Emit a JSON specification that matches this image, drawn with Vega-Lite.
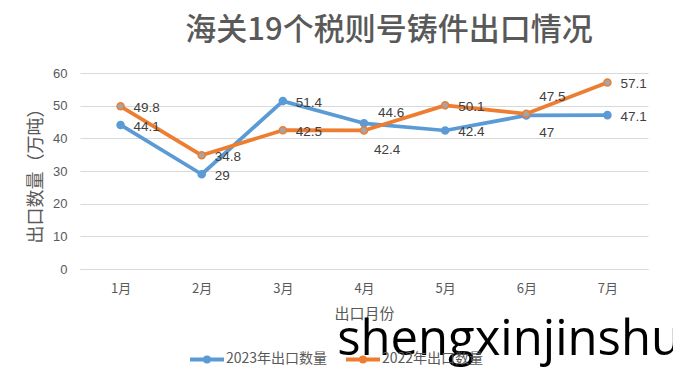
{
  "$schema": "https://vega.github.io/schema/vega-lite/v6.json",
  "width": 568,
  "height": 196,
  "autosize": {"type": "none"},
  "padding": {"left": 80, "top": 73, "right": 25, "bottom": 116},
  "background": "white",
  "config": {
    "view": {"stroke": null},
    "font": "Noto Sans CJK SC"
  },
  "title": {
    "text": "海关19个税则号铸件出口情况",
    "fontSize": 31,
    "fontWeight": 500,
    "color": "#595959",
    "font": "Noto Sans CJK SC",
    "anchor": "middle",
    "dx": 25,
    "offset": 20
  },
  "datasets": {
    "exports": [
      {"month": "1月", "series": "2023年出口数量", "value": 44.1},
      {"month": "2月", "series": "2023年出口数量", "value": 29},
      {"month": "3月", "series": "2023年出口数量", "value": 51.4},
      {"month": "4月", "series": "2023年出口数量", "value": 44.6},
      {"month": "5月", "series": "2023年出口数量", "value": 42.4},
      {"month": "6月", "series": "2023年出口数量", "value": 47},
      {"month": "7月", "series": "2023年出口数量", "value": 47.1},
      {"month": "1月", "series": "2022年出口数量", "value": 49.8},
      {"month": "2月", "series": "2022年出口数量", "value": 34.8},
      {"month": "3月", "series": "2022年出口数量", "value": 42.5},
      {"month": "4月", "series": "2022年出口数量", "value": 42.4},
      {"month": "5月", "series": "2022年出口数量", "value": 50.1},
      {"month": "6月", "series": "2022年出口数量", "value": 47.5},
      {"month": "7月", "series": "2022年出口数量", "value": 57.1}
    ],
    "watermark": [
      {"label": "shengxinjinshu", "month": "5月", "value": 0}
    ]
  },
  "data": {"name": "exports"},
  "encoding": {
    "x": {
      "field": "month",
      "type": "ordinal",
      "sort": ["1月", "2月", "3月", "4月", "5月", "6月", "7月"],
      "scale": {"type": "point", "padding": 0.5},
      "axis": {
        "title": "出口月份",
        "titleFont": "Noto Sans CJK SC",
        "titleFontSize": 15,
        "titleFontWeight": "normal",
        "titleColor": "#595959",
        "titlePadding": 11,
        "labelFont": "Noto Sans CJK SC",
        "labelFontSize": 13,
        "labelColor": "#595959",
        "labelPadding": 13,
        "labelAngle": 0,
        "ticks": false,
        "domainColor": "#D9D9D9",
        "grid": false
      }
    },
    "y": {
      "field": "value",
      "type": "quantitative",
      "scale": {"domain": [0, 60], "nice": false, "zero": true},
      "axis": {
        "title": "出口数量（万吨）",
        "titleFont": "Noto Sans CJK SC",
        "titleFontSize": 18,
        "titleFontWeight": "normal",
        "titleColor": "#595959",
        "titlePadding": 7,
        "values": [0, 10, 20, 30, 40, 50, 60],
        "labelFont": "Liberation Sans",
        "labelFontSize": 13,
        "labelColor": "#595959",
        "labelPadding": 13,
        "ticks": false,
        "domain": false,
        "gridColor": "#D9D9D9",
        "gridWidth": 1
      }
    }
  },
  "layer": [
    {
      "mark": {"type": "line", "strokeWidth": 3.75, "strokeJoin": "round", "strokeCap": "round"},
      "encoding": {
        "color": {
          "field": "series",
          "type": "nominal",
          "scale": {"domain": ["2023年出口数量", "2022年出口数量"], "range": ["#5B9BD5", "#ED7D31"]},
          "legend": {
            "title": null,
            "orient": "none",
            "direction": "horizontal",
            "legendX": 108,
            "legendY": 267,
            "symbolType": "M-1,0 L1,0 M-0.12,0 A0.12,0.12 0 1,1 0.12,0 A0.12,0.12 0 1,1 -0.12,0",
            "symbolSize": 1156,
            "symbolStrokeWidth": 4,
            "labelFont": "Noto Sans CJK SC",
            "labelFontSize": 14,
            "labelColor": "#595959",
            "labelOffset": 0,
            "columnPadding": 10
          }
        }
      }
    },
    {
      "mark": {"type": "point", "filled": true, "size": 50, "strokeWidth": 1.5, "opacity": 1},
      "encoding": {
        "fill": {
          "field": "series",
          "type": "nominal",
          "scale": {"domain": ["2023年出口数量", "2022年出口数量"], "range": ["#5B9BD5", "#A5A5A5"]},
          "legend": null
        },
        "stroke": {
          "field": "series",
          "type": "nominal",
          "scale": {"domain": ["2023年出口数量", "2022年出口数量"], "range": ["#5B9BD5", "#ED7D31"]},
          "legend": null
        }
      }
    },
    {
      "transform": [{"filter": "!((datum.month == '4月' || datum.month == '6月'))"}],
      "mark": {"type": "text", "align": "left", "baseline": "middle", "dx": 13, "dy": 2, "fontSize": 13.5, "font": "Liberation Sans", "color": "#404040"},
      "encoding": {"text": {"field": "value", "type": "nominal"}}
    },
    {
      "transform": [{"filter": "datum.month == '4月' && datum.series == '2023年出口数量'"}],
      "mark": {"type": "text", "align": "left", "baseline": "middle", "dx": 14, "dy": -10, "fontSize": 13.5, "font": "Liberation Sans", "color": "#404040"},
      "encoding": {"text": {"field": "value", "type": "nominal"}}
    },
    {
      "transform": [{"filter": "datum.month == '4月' && datum.series == '2022年出口数量'"}],
      "mark": {"type": "text", "align": "left", "baseline": "middle", "dx": 10, "dy": 20, "fontSize": 13.5, "font": "Liberation Sans", "color": "#404040"},
      "encoding": {"text": {"field": "value", "type": "nominal"}}
    },
    {
      "transform": [{"filter": "datum.month == '6月' && datum.series == '2022年出口数量'"}],
      "mark": {"type": "text", "align": "left", "baseline": "middle", "dx": 13, "dy": -17, "fontSize": 13.5, "font": "Liberation Sans", "color": "#404040"},
      "encoding": {"text": {"field": "value", "type": "nominal"}}
    },
    {
      "transform": [{"filter": "datum.month == '6月' && datum.series == '2023年出口数量'"}],
      "mark": {"type": "text", "align": "left", "baseline": "middle", "dx": 13, "dy": 18, "fontSize": 13.5, "font": "Liberation Sans", "color": "#404040"},
      "encoding": {"text": {"field": "value", "type": "nominal"}}
    },
    {
      "data": {"name": "watermark"},
      "mark": {"type": "text", "align": "left", "baseline": "alphabetic", "dx": -108, "dy": 86, "fontSize": 49, "font": "Open Sans", "color": "#000000"},
      "encoding": {
        "text": {"field": "label", "type": "nominal"}
      }
    }
  ]
}
